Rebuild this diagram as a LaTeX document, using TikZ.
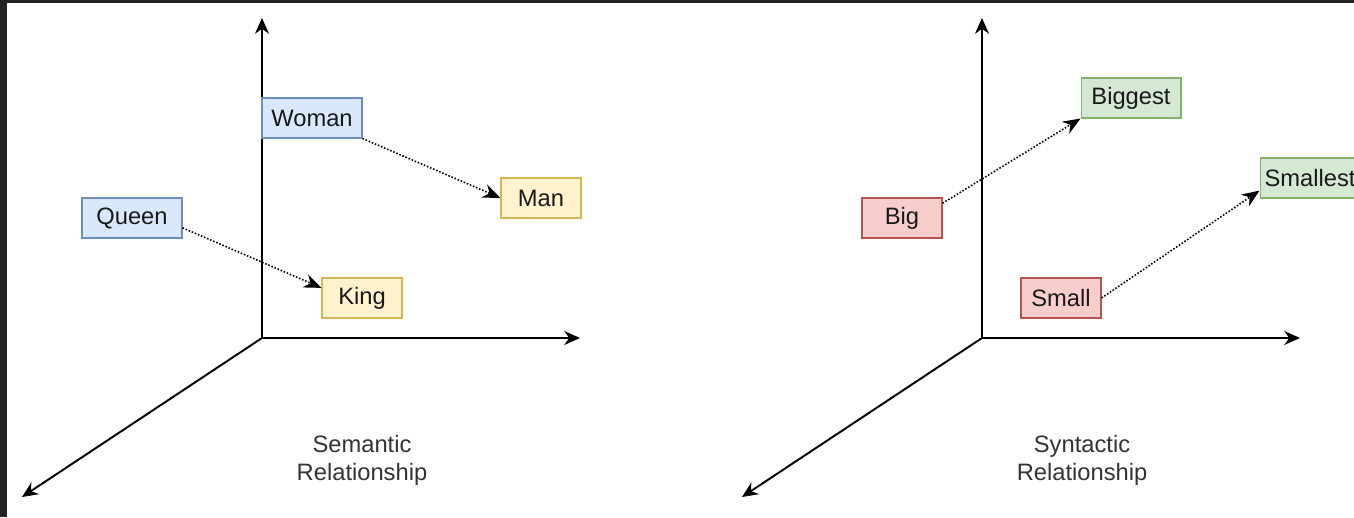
\documentclass[tikz,border=0pt]{standalone}
\usepackage{fontspec}
\setmainfont{Liberation Sans}
\usetikzlibrary{arrows.meta}

\definecolor{framegray}{HTML}{232323}
\definecolor{bluefill}{HTML}{DAE8FC}
\definecolor{blueline}{HTML}{6C8EBF}
\definecolor{yellowfill}{HTML}{FFF2CC}
\definecolor{yellowline}{HTML}{D6B656}
\definecolor{redfill}{HTML}{F8CECC}
\definecolor{redline}{HTML}{B85450}
\definecolor{greenfill}{HTML}{D5E8D4}
\definecolor{greenline}{HTML}{82B366}
\definecolor{labelgray}{HTML}{333333}

\tikzset{
  word/.style={draw, rectangle, minimum width=1.6cm, minimum height=0.8cm,
    inner sep=0pt, line width=0.6pt, text=black!90, font=\fontsize{13.5}{16}\selectfont},
  wideword/.style={word, minimum width=2cm},
  blueword/.style={fill=bluefill, draw=blueline},
  yellowword/.style={fill=yellowfill, draw=yellowline},
  redword/.style={fill=redfill, draw=redline},
  greenword/.style={fill=greenfill, draw=greenline},
  axis/.style={line width=1.1pt, -{Stealth[length=9pt,width=8pt]}},
  link/.style={densely dotted, line width=0.9pt, -{Stealth[length=10pt,width=8pt]}},
  caption/.style={align=center, text=labelgray, font=\fontsize{13.5}{16}\selectfont}
}

\begin{document}
\begin{tikzpicture}[x=0.02cm, y=0.02cm]
  \useasboundingbox (0,0) rectangle (1354,-517);
  \fill [framegray] (0,0) rectangle (1354,-517);
  \fill [white] (7,-3) rectangle (1354,-517);
  \clip (0,0) rectangle (1354,-517);

  % semantic axes
  \coordinate (o1) at (262,-338);
  \coordinate (up1) at (262,-18);
  \coordinate (right1) at (580,-338);
  \coordinate (depth1) at (22,-497);
  \draw [axis] (o1) -- (up1);
  \draw [axis] (o1) -- (right1);
  \draw [axis] (o1) -- (depth1);

  \node [wideword, blueword] (woman) at (312,-118) {Woman};
  \node [wideword, blueword] (queen) at (132,-218) {Queen};
  \node [word, yellowword] (man) at (541,-198) {Man};
  \node [word, yellowword] (king) at (362,-298) {King};
  \draw [link] (woman.south east) -- (man.west);
  \draw [link] (queen.-11) -- (king.166);
  \node [caption] (semantic) at (362,-460) {Semantic\\Relationship};

  % syntactic axes
  \coordinate (o2) at (982,-338);
  \coordinate (up2) at (982,-18);
  \coordinate (right2) at (1300,-338);
  \coordinate (depth2) at (742,-497);
  \draw [axis] (o2) -- (up2);
  \draw [axis] (o2) -- (right2);
  \draw [axis] (o2) -- (depth2);

  \node [word, redword] (big) at (902,-218) {Big};
  \node [wideword, greenword] (biggest) at (1131,-98) {Biggest};
  \node [word, redword] (small) at (1061,-298) {Small};
  \node [wideword, greenword] (smallest) at (1310,-178) {Smallest};
  \draw [link] (big.20) -- (biggest.south west);
  \draw [link] (small.east) -- (smallest.-166);
  \node [caption] (syntactic) at (1082,-460) {Syntactic\\Relationship};
\end{tikzpicture}
\end{document}
